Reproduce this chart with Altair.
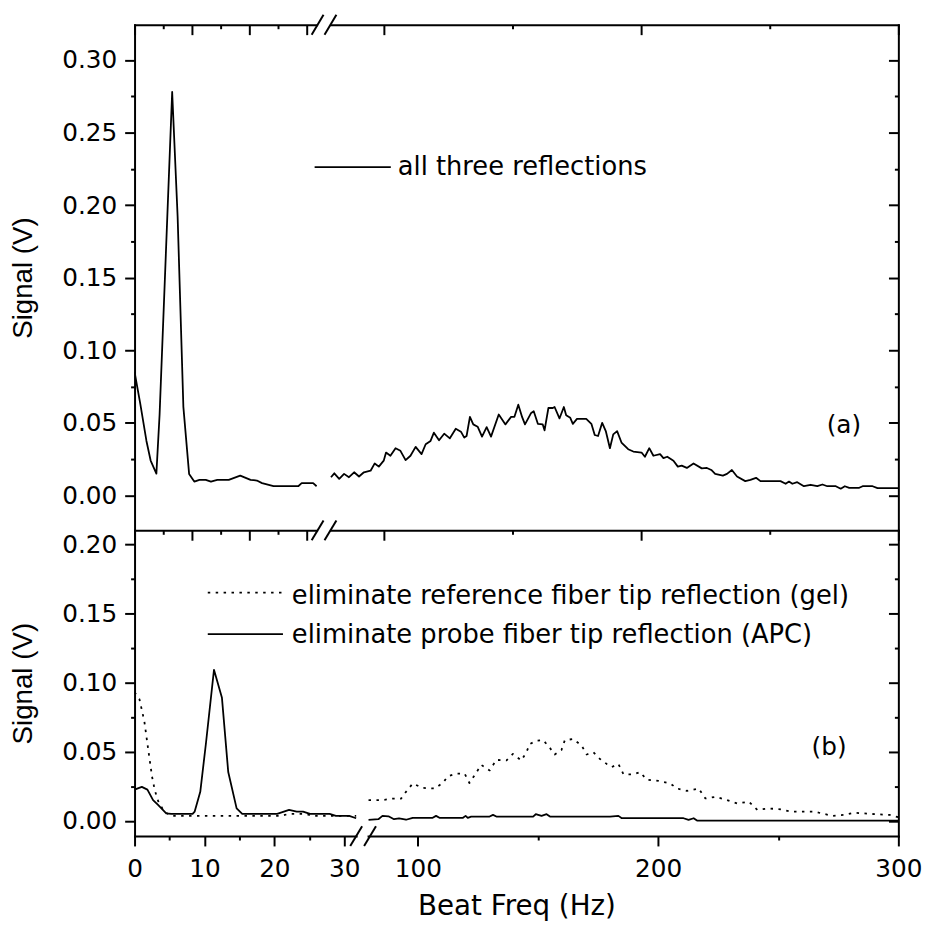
import altair as alt
import pandas as pd

# ---------------- data ----------------
# panel (a): all three reflections, low-frequency part (Hz, V)
top_low_hz = [0, 1.0, 2.07, 2.8, 3.8, 4.36, 6.55, 7.5, 8.5, 9.5, 10.4, 11.3, 12.4, 13.3,
              14.4, 16.4, 18.4, 20.2, 21.3, 22.2, 24.2, 28.5, 29.1, 31.1, 31.7]
top_low_v = [0.085, 0.063, 0.0375, 0.024, 0.015, 0.0557, 0.278, 0.192, 0.061, 0.0148, 0.0095,
             0.0107, 0.0107, 0.0095, 0.0107, 0.0107, 0.0136, 0.0107, 0.0102, 0.0084, 0.0063,
             0.0063, 0.0084, 0.0084, 0.0063]
# panel (a): high-frequency part
top_high_hz = [79.5, 80.8, 82.7, 84.6, 86.5, 88.5, 90.4, 92.3, 94.9, 96.5, 98.1, 100.0, 100.9,
               102.6, 104.6, 106.5, 108.5, 110.4, 112.4, 114.7, 116.3, 118.2, 119.5, 121.5,
               123.5, 125.7, 128.0, 130.0, 131.3, 132.2, 133.5, 134.8, 136.5, 138.2, 140.0,
               141.7, 144.7, 147.3, 149.5, 150.8, 152.3, 153.8, 154.9, 157.3, 158.3, 159.9,
               161.8, 162.5, 164.0, 165.7, 166.4, 168.3, 170.0, 170.9, 172.5, 173.5, 175.1,
               178.7, 180.7, 182.0, 183.3, 184.9, 186.3, 187.9, 189.2, 190.7, 192.4, 195.0,
               197.0, 200.2, 201.5, 203.2, 204.8, 207.4, 208.7, 210.2, 212.6, 214.3, 215.8,
               217.8, 220.4, 223.6, 225.6, 227.3, 228.8, 231.8, 233.4, 235.3, 237.3, 240.5,
               242.5, 244.7, 246.4, 254.2, 256.2, 257.5, 258.8, 260.7, 263.3, 265.9, 268.5,
               270.5, 272.4, 275.7, 277.6, 279.2, 280.9, 284.8, 286.1, 290.0, 291.9, 300.0]
top_high_v = [0.0125, 0.0152, 0.0114, 0.0148, 0.0125, 0.0159, 0.013, 0.0159, 0.017, 0.022,
              0.0198, 0.0239, 0.0295, 0.0273, 0.0325, 0.0307, 0.0243, 0.0273, 0.0334, 0.0284,
              0.0352, 0.0375, 0.0432, 0.038, 0.0425, 0.0393, 0.0459, 0.0439, 0.0398, 0.0409,
              0.0541, 0.0489, 0.0473, 0.0405, 0.047, 0.0405, 0.0557, 0.0489, 0.0541, 0.0541,
              0.0625, 0.0539, 0.0489, 0.0568, 0.058, 0.0493, 0.0489, 0.0448, 0.0602, 0.0602,
              0.0609, 0.053, 0.0609, 0.0552, 0.0534, 0.0493, 0.0527, 0.0527, 0.0493, 0.0416,
              0.0409, 0.05, 0.0443, 0.0325, 0.042, 0.0443, 0.0364, 0.0318, 0.0302, 0.0295,
              0.0266, 0.0325, 0.0273, 0.0284, 0.0257, 0.0266, 0.0239, 0.0198, 0.0205, 0.0189,
              0.022, 0.0186, 0.0189, 0.0175, 0.0148, 0.0136, 0.0148, 0.0175, 0.013, 0.0098,
              0.0107, 0.0121, 0.0098, 0.0098, 0.008, 0.0095, 0.008, 0.0091, 0.0063, 0.0073,
              0.0063, 0.0075, 0.0063, 0.0063, 0.0046, 0.0063, 0.0052, 0.0052, 0.0063, 0.0063,
              0.005, 0.005]
# panel (b): probe tip eliminated (APC), solid
bot_low_apc_hz = [0, 1.04, 1.84, 2.65, 3.36, 4.53, 5.24, 8.3, 8.6, 9.4, 10.2, 11.36, 12.5, 13.4,
                  14.6, 15.4, 20.4, 22.1, 23.2, 24.1, 25.1, 27.9, 28.8, 30.7, 31.7]
bot_low_apc_v = [0.0226, 0.0246, 0.0226, 0.015, 0.0115, 0.0054, 0.005, 0.005, 0.0067, 0.021,
                 0.0556, 0.1093, 0.089, 0.0353, 0.009, 0.005, 0.005, 0.0079, 0.0067, 0.0067,
                 0.005, 0.005, 0.0036, 0.0036, 0.0019]
bot_high_apc_hz = [79.5, 83.6, 85.3, 87.8, 90.1, 92.2, 95.1, 97.9, 106.2, 107.6, 109.0, 118.8,
                   119.9, 120.8, 122.2, 129.9, 131.3, 132.7, 148.0, 149.1, 151.5, 153.6, 155.0,
                   180.0, 183.5, 184.9, 210.6, 212.7, 214.8, 216.2, 300.0]
bot_high_apc_v = [0.0007, 0.0012, 0.0036, 0.0033, 0.0012, 0.0018, 0.0008, 0.0022, 0.0022, 0.0036,
                  0.0022, 0.0022, 0.0036, 0.0022, 0.0031, 0.0031, 0.0043, 0.0031, 0.0031, 0.0048,
                  0.0036, 0.0048, 0.0031, 0.0031, 0.0036, 0.0019, 0.0019, 0.0007, 0.0019, 0.0002,
                  0.0002]
# panel (b): reference tip eliminated (gel), dotted
bot_low_gel_hz = [0, 0.7, 1.4, 2.0, 2.5, 2.9, 3.4, 4.2, 5.2, 21.0, 22.0, 24.5, 25.5, 31.7]
bot_low_gel_v = [0.093, 0.088, 0.072, 0.05, 0.032, 0.022, 0.014, 0.007, 0.0036, 0.0036, 0.005,
                 0.005, 0.0036, 0.0036]
bot_high_gel_hz = [79.5, 85.0, 89.4, 93.0, 95.1, 97.9, 102.1, 107.0, 110.4, 112.5, 116.0, 119.5,
                   121.5, 123.6, 126.4, 129.9, 132.7, 136.9, 139.6, 143.1, 145.2, 146.6, 149.4,
                   152.2, 155.0, 157.0, 159.8, 161.2, 164.7, 168.2, 170.3, 173.1, 175.8, 178.6,
                   180.7, 183.5, 185.6, 189.8, 192.5, 195.3, 200.2, 205.1, 207.9, 212.0, 216.9,
                   219.7, 223.9, 228.7, 232.9, 237.8, 241.3, 246.1, 251.0, 255.2, 264.9, 272.6,
                   277.5, 281.6, 288.6, 296.3, 300.0]
bot_high_gel_v = [0.015, 0.015, 0.016, 0.016, 0.021, 0.027, 0.0238, 0.0234, 0.0274, 0.0322,
                  0.0341, 0.0341, 0.0274, 0.0329, 0.0405, 0.0365, 0.0441, 0.0437, 0.0484, 0.0437,
                  0.0496, 0.0556, 0.058, 0.0584, 0.0527, 0.048, 0.0513, 0.0584, 0.0592, 0.0544,
                  0.048, 0.0496, 0.0448, 0.0412, 0.0389, 0.0412, 0.0337, 0.0337, 0.0353, 0.0298,
                  0.0289, 0.027, 0.0234, 0.0217, 0.0234, 0.0162, 0.0174, 0.015, 0.0126, 0.0138,
                  0.0079, 0.009, 0.0083, 0.0067, 0.0067, 0.0036, 0.0043, 0.0059, 0.005, 0.0043,
                  0.0026]

low_ticks = [0, 5, 10, 15, 20, 25, 30]
high_ticks = [100, 150, 200, 250, 300]
top_y_ticks = [0.0, 0.025, 0.05, 0.075, 0.1, 0.125, 0.15, 0.175, 0.2, 0.225, 0.25, 0.275, 0.3]
bot_y_ticks = [0.0, 0.025, 0.05, 0.075, 0.1, 0.125, 0.15, 0.175, 0.2]

y_title = "Signal (V)"
x_title = "Beat Freq (Hz)"
legend_top = ["all three reflections"]
legend_bottom = ["eliminate reference fiber tip reflection (gel)",
                 "eliminate probe fiber tip reflection (APC)"]
panel_tags = ["(a)", "(b)"]

# ---------------- layout / style ----------------
FONT = "DejaVu Sans"
YFONT = "Liberation Sans"
BLACK = "black"
LW = 1.8
AXW = 2
DOT = [2.5, 5.5]

LOW_DOM = [0, 31.7]
HIGH_DOM = [79.3, 300]
TOP_YDOM = [-0.0241, 0.3243]
BOT_YDOM = [-0.0110, 0.2102]
W = 772
TOP_H, BOT_H = 511, 309
TOP_LOW_RANGE, TOP_HIGH_RANGE = [0, 184], [198, W]
BOT_LOW_RANGE, BOT_HIGH_RANGE = [0, 224], [236, W]

X_LOW_TEST = "datum.value % 10 == 0"
X_HIGH_TEST = "datum.value % 100 == 0"
Y_TEST = "abs(datum.value * 20 - round(datum.value * 20)) < 0.01"
Y_LABEL = f"({Y_TEST}) ? format(datum.value, '.2f') : ''"
X_LOW_LABEL = f"({X_LOW_TEST}) ? datum.label : ''"
X_HIGH_LABEL = f"({X_HIGH_TEST}) ? datum.label : ''"

ONE = pd.DataFrame({"k": [0]})


def frame_df(hz, v):
    return pd.DataFrame({"hz": hz, "v": v})


def tick_size(test, inward=False):
    s = -1 if inward else 1
    return alt.ExprRef(expr=f"({test}) ? {10 * s} : {4 * s}")


def make_axis(orient, values, test, inward=False, label_expr=None, title=None,
              title_props=None, label_pad=8):
    kw = dict(orient=orient, values=values, grid=False, domain=True, domainColor=BLACK,
              domainWidth=AXW, domainCap="square", ticks=True, tickColor=BLACK, tickWidth=AXW,
              tickSize=tick_size(test, inward), labelFlush=False, labelOverlap=False)
    if label_expr:
        kw.update(labels=True, labelExpr=label_expr, labelFont=FONT, labelFontSize=25,
                  labelColor=BLACK, labelPadding=label_pad)
    else:
        kw.update(labels=False)
    if title:
        kw.update(title=title, titleFontWeight="normal", titleColor=BLACK)
        kw.update(title_props or {})
    else:
        kw.update(title=None)
    return alt.Axis(**kw)


def sc(dom, rng=None):
    if rng is None:
        return alt.Scale(domain=dom, nice=False, zero=False)
    return alt.Scale(domain=dom, range=rng, nice=False, zero=False)


def line_layer(data, xscale, yscale, xaxis=None, yaxis=None, dash=None, invisible=False):
    mk = dict(color=BLACK, strokeWidth=LW, clip=True, strokeJoin="round")
    if dash:
        mk["strokeDash"] = dash
    if invisible:
        mk["strokeOpacity"] = 0
    return alt.Chart(data).mark_line(**mk).encode(
        x=alt.X("hz:Q", scale=xscale, axis=xaxis),
        y=alt.Y("v:Q", scale=yscale, axis=yaxis),
        order="hz:Q",
    )


def slash(xval, xscale, ypix, shift=0):
    return alt.Chart(ONE).mark_rule(color=BLACK, strokeWidth=AXW,
                                    xOffset=shift - 6, x2Offset=shift + 6).encode(
        x=alt.XDatum(xval, scale=xscale, axis=None), x2=alt.X2Datum(xval),
        y=alt.value(ypix + 10), y2=alt.value(ypix - 10))


def text_layer(txt, xpix, ypix, align="left", size=26):
    return alt.Chart(pd.DataFrame({"t": [txt]})).mark_text(
        align=align, baseline="middle", font=FONT, fontSize=size, color=BLACK).encode(
        text="t:N", x=alt.value(xpix), y=alt.value(ypix))


def legend_rule(x1, x2, ypix, dash=None):
    mk = dict(color=BLACK, strokeWidth=LW)
    if dash:
        mk["strokeDash"] = dash
    return alt.Chart(ONE).mark_rule(**mk).encode(
        x=alt.value(x1), x2=alt.value(x2), y=alt.value(ypix))


YTITLE = dict(titleFont=YFONT, titleFontSize=28, titlePadding=24)
XTITLE = dict(titleFont=FONT, titleFontSize=28, titlePadding=12, titleX=386, titleAlign="center")

top_low = frame_df(top_low_hz, top_low_v)
top_high = frame_df(top_high_hz, top_high_v)
bl_apc = frame_df(bot_low_apc_hz, bot_low_apc_v)
bl_gel = frame_df(bot_low_gel_hz, bot_low_gel_v)
br_apc = frame_df(bot_high_apc_hz, bot_high_apc_v)
br_gel = frame_df(bot_high_gel_hz, bot_high_gel_v)

# ---- panel (a) ----
tl_x = sc(LOW_DOM, TOP_LOW_RANGE)
th_x = sc(HIGH_DOM, TOP_HIGH_RANGE)
t_y = sc(TOP_YDOM)

top_panel = alt.layer(
    line_layer(top_low, tl_x, t_y,
               xaxis=make_axis("bottom", low_ticks, X_LOW_TEST),
               yaxis=make_axis("left", top_y_ticks, Y_TEST, label_expr=Y_LABEL,
                               title=y_title, title_props=YTITLE)),
    line_layer(top_low, tl_x, t_y, invisible=True,
               xaxis=make_axis("top", low_ticks, X_LOW_TEST, inward=True)),
    line_layer(top_high, th_x, t_y,
               xaxis=make_axis("bottom", high_ticks, X_HIGH_TEST),
               yaxis=make_axis("right", top_y_ticks, Y_TEST, inward=True)),
    line_layer(top_high, th_x, t_y, invisible=True,
               xaxis=make_axis("top", high_ticks, X_HIGH_TEST, inward=True)),
    slash(LOW_DOM[1], tl_x, 0, 1),
    slash(LOW_DOM[1], tl_x, TOP_H, 1),
    slash(HIGH_DOM[0], th_x, 0, 0),
    slash(HIGH_DOM[0], th_x, TOP_H, 0),
    legend_rule(182, 259, 144),
    text_layer(legend_top[0], 266, 144),
    text_layer(panel_tags[0], 717, 405, align="center", size=25),
).resolve_scale(x="independent").resolve_axis(x="independent", y="independent").properties(
    width=W, height=TOP_H)

# ---- panel (b) ----
bl_x = sc(LOW_DOM, BOT_LOW_RANGE)
bh_x = sc(HIGH_DOM, BOT_HIGH_RANGE)
b_y = sc(BOT_YDOM)

bottom_panel = alt.layer(
    line_layer(bl_gel, bl_x, b_y, dash=DOT,
               xaxis=make_axis("bottom", low_ticks, X_LOW_TEST, label_expr=X_LOW_LABEL,
                               title=x_title, title_props=XTITLE, label_pad=10.5),
               yaxis=make_axis("left", bot_y_ticks, Y_TEST, label_expr=Y_LABEL,
                               title=y_title, title_props=YTITLE)),
    line_layer(bl_apc, bl_x, b_y),
    line_layer(br_gel, bh_x, b_y, dash=DOT,
               xaxis=make_axis("bottom", high_ticks, X_HIGH_TEST, label_expr=X_HIGH_LABEL,
                               label_pad=10.5),
               yaxis=make_axis("right", bot_y_ticks, Y_TEST, inward=True)),
    line_layer(br_apc, bh_x, b_y),
    slash(LOW_DOM[1], bl_x, BOT_H, 0),
    slash(HIGH_DOM[0], bh_x, BOT_H, 2),
    legend_rule(74, 150, 63, dash=DOT),
    text_layer(legend_bottom[0], 159, 66),
    legend_rule(74, 150, 105),
    text_layer(legend_bottom[1], 159, 106),
    text_layer(panel_tags[1], 702, 219, align="center", size=25),
).resolve_scale(x="independent").resolve_axis(x="independent", y="independent").properties(
    width=W, height=BOT_H)

chart = (
    alt.vconcat(top_panel, bottom_panel, spacing=0, bounds="flush")
    .properties(padding={"left": 10, "top": 9, "right": 10, "bottom": 10},
                background="white")
    .configure_view(stroke=None)
)

chart.save("out.html", embed_options={"renderer": "svg", "actions": False})
